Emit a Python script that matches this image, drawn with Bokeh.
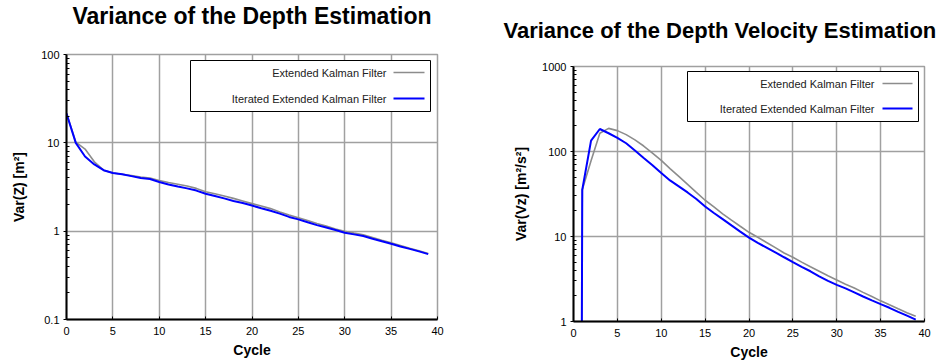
from bokeh.plotting import figure
from bokeh.models import FixedTicker, BoxAnnotation, Label, Arrow, Range1d
from bokeh.layouts import row
from bokeh.embed import file_html
from bokeh.resources import INLINE

# ---------------- data ----------------
cycles = list(range(40))

var_z_ekf = [21.6, 10.2, 8.5, 6.1, 4.9, 4.55, 4.4, 4.25, 4.1, 4.0,
             3.75, 3.55, 3.4, 3.25, 3.05, 2.8, 2.65, 2.5, 2.35, 2.2,
             2.05, 1.93, 1.8, 1.65, 1.52, 1.42, 1.32, 1.22, 1.14, 1.06,
             1.0, 0.95, 0.91, 0.85, 0.79, 0.74, 0.69, 0.64, 0.6, 0.56]
var_z_iekf = [21.5, 10.0, 7.0, 5.7, 4.9, 4.55, 4.4, 4.2, 4.0, 3.9,
              3.6, 3.38, 3.2, 3.05, 2.88, 2.65, 2.5, 2.35, 2.2, 2.08,
              1.95, 1.82, 1.7, 1.58, 1.45, 1.36, 1.26, 1.17, 1.1, 1.03,
              0.96, 0.92, 0.88, 0.82, 0.77, 0.72, 0.67, 0.63, 0.59, 0.55]

# cycle 0 is (practically) zero -> far below the 1..1000 log range
var_vz_ekf = [1e-30, 35.5, 78, 164, 187, 176, 158, 137, 116, 95.5,
              78.5, 63, 51, 41, 33, 26.7, 22.3, 18.5, 15.6, 13.2,
              11.2, 9.8, 8.5, 7.4, 6.4, 5.7, 5.0, 4.4, 3.9, 3.45,
              3.08, 2.75, 2.48, 2.2, 1.97, 1.75, 1.57, 1.41, 1.27, 1.15]
var_vz_iekf = [1e-30, 35.5, 134, 184, 164, 145, 125, 103, 84, 69,
               55.7, 45.7, 38.9, 33, 27.6, 22.5, 18.9, 16.0, 13.5, 11.4,
               9.7, 8.4, 7.4, 6.5, 5.7, 5.0, 4.4, 3.9, 3.4, 3.0,
               2.7, 2.45, 2.2, 1.97, 1.77, 1.6, 1.45, 1.3, 1.17, 1.05]

x_ticks = [0, 5, 10, 15, 20, 25, 30, 35, 40]
y_ticks_z = [0.1, 1, 10, 100]
y_labels_z = ["0.1", "1", "10", "100"]
y_ticks_vz = [1, 10, 100, 1000]
y_labels_vz = ["1", "10", "100", "1000"]

series_names = ["Extended Kalman Filter", "Iterated Extended Kalman Filter"]
series_colors = ["#8c8c8c", "#0000ff"]
series_widths = [1.6, 2.0]

FONT = "Liberation Sans"
BT, BB = 100, 40   # top / bottom borders (equal in both plots of the row)


def make_plot(title, ylabel, y_ekf, y_iekf, yticks, ylabels, W,
              frame_top, frame_bottom, bl, br,
              title_font_size, title_align, title_offset, title_standoff,
              ylabel_standoff, legend_box, legend_rows, text_right, line_x):
    # canvas is shifted up so that the frame lands at frame_top on the page
    shift = BT - frame_top
    H = frame_bottom + shift + BB
    p = figure(width=W, height=H, y_axis_type="log",
               x_range=Range1d(0, 40), y_range=Range1d(yticks[0], yticks[-1]),
               output_backend="svg", toolbar_location=None,
               min_border_left=bl, min_border_right=br,
               min_border_top=BT, min_border_bottom=BB)
    p.margin = (-shift, 0, 0, 0)
    p.background_fill_color = "white"
    p.border_fill_color = "white"
    p.outline_line_color = "#a0a0a0"
    p.outline_line_width = 1.5

    # page (window) pixel -> frame-relative screen units
    def sx(cx):
        return cx - bl

    def sy(cy):
        return frame_bottom - cy

    p.title.text = title
    p.title.text_font = FONT
    p.title.text_font_size = title_font_size
    p.title.text_font_style = "bold"
    p.title.text_color = "black"
    p.title.align = title_align
    p.title.offset = title_offset
    p.title.standoff = title_standoff

    # x axis
    p.xaxis.ticker = FixedTicker(ticks=x_ticks)
    p.xaxis.axis_label = "Cycle"
    # y axis
    minors = [d * k for d in yticks[:-1] for k in range(2, 10)]
    p.yaxis.ticker = FixedTicker(ticks=yticks, minor_ticks=minors)
    p.yaxis.major_label_overrides = {t: l for t, l in zip(yticks, ylabels)}
    p.yaxis.axis_label = ylabel

    for ax in (p.xaxis[0], p.yaxis[0]):
        ax.axis_line_color = "black"
        ax.axis_line_width = 2
        ax.major_tick_line_color = "black"
        ax.major_tick_line_width = 1
        ax.minor_tick_line_color = "black"
        ax.minor_tick_line_width = 1
        ax.major_label_text_font = FONT
        ax.major_label_text_font_size = "11px"
        ax.major_label_text_color = "black"
        ax.axis_label_text_font = FONT
        ax.axis_label_text_font_size = "14px"
        ax.axis_label_text_font_style = "bold"
        ax.axis_label_text_color = "black"

    p.xaxis.major_tick_in = 3
    p.xaxis.major_tick_out = 0
    p.xaxis.minor_tick_in = 0
    p.xaxis.minor_tick_out = 0
    p.xaxis.major_label_standoff = 7
    p.xaxis.axis_label_standoff = 4

    p.yaxis.major_tick_in = 0
    p.yaxis.major_tick_out = 3
    p.yaxis.minor_tick_in = 3
    p.yaxis.minor_tick_out = 0
    p.yaxis.major_label_standoff = 4
    p.yaxis.axis_label_standoff = ylabel_standoff

    p.xgrid.ticker = FixedTicker(ticks=x_ticks)
    p.ygrid.ticker = FixedTicker(ticks=yticks)
    for g in (p.xgrid[0], p.ygrid[0]):
        g.grid_line_color = "#a0a0a0"
        g.grid_line_width = 1.5

    ys = [y_ekf, y_iekf]
    for yv, c, w in zip(ys, series_colors, series_widths):
        p.line(cycles, yv, line_color=c, line_width=w)

    # legend drawn in screen units (frame-relative, y up)
    L, R, T, B = legend_box
    p.add_layout(BoxAnnotation(left=sx(L), right=sx(R), top=sy(T), bottom=sy(B),
                               left_units="screen", right_units="screen",
                               top_units="screen", bottom_units="screen",
                               fill_color="white", fill_alpha=1.0,
                               line_color="black", line_alpha=1.0, line_width=1,
                               level="overlay"))
    for name, c, w, ry in zip(series_names, series_colors, series_widths, legend_rows):
        p.add_layout(Label(x=sx(text_right), y=sy(ry), x_units="screen", y_units="screen",
                           text=name, text_align="right", text_baseline="middle",
                           text_font=FONT, text_font_size="11px", text_color="#222222",
                           level="overlay"))
        p.add_layout(Arrow(end=None, x_start=sx(line_x[0]), y_start=sy(ry),
                           x_end=sx(line_x[1]), y_end=sy(ry),
                           start_units="screen", end_units="screen",
                           line_color=c, line_width=w, level="overlay"))
    return p


p1 = make_plot("Variance of the Depth Estimation", "Var(Z) [m²]",
               var_z_ekf, var_z_iekf, y_ticks_z, y_labels_z,
               470, 54, 320, 66, 33, "23px", "center", 0, 52, 11,
               (190, 430, 61, 112), (73, 99), 386, (393, 424))
p2 = make_plot("Variance of the Depth Velocity Estimation", "Var(Vz) [m²/s²]",
               var_vz_ekf, var_vz_iekf, y_ticks_vz, y_labels_vz,
               467, 66, 322, 103, 13, "22px", "left", -70, 48, 10,
               (217, 448, 72, 122), (84, 109), 404, (412, 442))

layout = row(p1, p2)
open("out.html", "w").write(file_html(layout, INLINE))
